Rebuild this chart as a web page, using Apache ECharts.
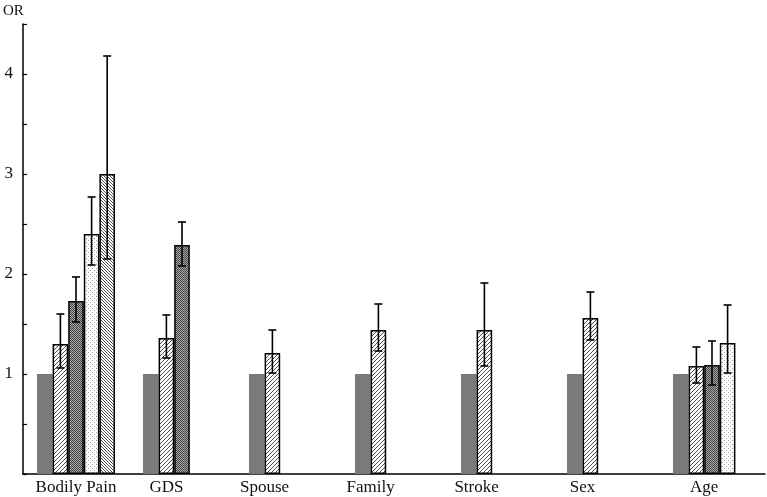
<!DOCTYPE html>
<html><head><meta charset="utf-8">
<script src="https://cdn.jsdelivr.net/npm/echarts@6/dist/echarts.min.js"></script>
<style>html,body{margin:0;padding:0;background:#fff}#c{width:767px;height:497px}</style>
</head><body><div id="c"></div>
<script>
// ---- data ----
const categories = ['Bodily Pain', 'GDS', 'Spouse', 'Family', 'Stroke', 'Sex', 'Age'];
const refValues   = [1, 1, 1, 1, 1, 1, 1];
const hatchValues = [1.30, 1.36, 1.21, 1.44, 1.44, 1.56, 1.08];
const hatchLow    = [1.06, 1.16, 1.01, 1.23, 1.08, 1.34, 0.91];
const hatchHigh   = [1.60, 1.59, 1.44, 1.70, 1.91, 1.82, 1.27];
const darkValues  = [1.73, 2.29, null, null, null, null, 1.09];
const darkLow     = [1.52, 2.08, null, null, null, null, 0.89];
const darkHigh    = [1.97, 2.52, null, null, null, null, 1.33];
const dotValues   = [2.40, null, null, null, null, null, 1.31];
const dotLow      = [2.09, null, null, null, null, null, 1.01];
const dotHigh     = [2.77, null, null, null, null, null, 1.69];
const denseValues = [3.00, null, null, null, null, null, null];
const denseLow    = [2.15, null, null, null, null, null, null];
const denseHigh   = [4.18, null, null, null, null, null, null];
const yTickLabels = [1, 2, 3, 4];

// ---- patterns ----
function tile(size, draw) {
  const c = document.createElement('canvas');
  c.width = size; c.height = size;
  const g = c.getContext('2d');
  draw(g, size);
  return { image: c, repeat: 'repeat' };
}
function hatch(size, dir, col, lw) {
  return tile(size, (g, s) => {
    g.fillStyle = '#fff'; g.fillRect(0, 0, s, s);
    g.strokeStyle = col; g.lineWidth = lw;
    g.beginPath();
    if (dir > 0) {
      g.moveTo(-1, s + 1); g.lineTo(s + 1, -1);
      g.moveTo(-1, 1); g.lineTo(1, -1);
      g.moveTo(s - 1, s + 1); g.lineTo(s + 1, s - 1);
    } else {
      g.moveTo(-1, -1); g.lineTo(s + 1, s + 1);
      g.moveTo(s - 1, -1); g.lineTo(s + 1, 1);
      g.moveTo(-1, s - 1); g.lineTo(1, s + 1);
    }
    g.stroke();
  });
}
const patHatch = hatch(4, 1, '#3a3a3a', 0.9);
const patDense = hatch(3, -1, '#3a3a3a', 0.9);
const patDark = tile(2, (g) => {
  g.fillStyle = '#a8a8a8'; g.fillRect(0, 0, 2, 2);
  g.fillStyle = '#444'; g.fillRect(0, 0, 1, 1); g.fillRect(1, 1, 1, 1);
});
const patDot = tile(4, (g) => {
  g.fillStyle = '#fff'; g.fillRect(0, 0, 4, 4);
  g.fillStyle = '#a0a0a0'; g.fillRect(0, 0, 1, 1); g.fillRect(2, 2, 1, 1);
});

const GAP = 0.264, NSLOT = 5;
const serif = 'Liberation Serif';

const chart = echarts.init(document.getElementById('c'));
const gridLeft = 23, gridRight = 2;
const bandW = (767 - gridLeft - gridRight) / categories.length;
const barW = bandW * (1 - GAP) / NSLOT;

const slotData = [refValues, hatchValues, darkValues, dotValues, denseValues];
const counts = categories.map((_, i) => slotData.filter(a => a[i] != null).length);
const rich = {};
for (let n = 1; n <= NSLOT; n++) {
  rich['n' + n] = { fontFamily: serif, fontSize: 17, color: '#111', padding: [0, (NSLOT - n) * barW, 0, 0] };
}

function errSeries(slot, low, high) {
  const data = [];
  low.forEach((l, i) => { if (l != null) data.push([i, l, high[i]]); });
  return {
    type: 'custom', z: 10, silent: true,
    encode: { x: 0, y: [1, 2] },
    data,
    renderItem(params, api) {
      const ci = api.value(0);
      const band = api.size([1, 0])[0];
      const bw = band * (1 - GAP) / NSLOT;
      const c0 = api.coord([ci, api.value(1)]);
      const c1 = api.coord([ci, api.value(2)]);
      const x = c0[0] + (slot - (NSLOT - 1) / 2) * bw;
      const hw = 4;
      const st = { stroke: '#000', lineWidth: 1.6 };
      return { type: 'group', children: [
        { type: 'line', shape: { x1: x, y1: c0[1], x2: x, y2: c1[1] }, style: st },
        { type: 'line', shape: { x1: x - hw, y1: c0[1], x2: x + hw, y2: c0[1] }, style: st },
        { type: 'line', shape: { x1: x - hw, y1: c1[1], x2: x + hw, y2: c1[1] }, style: st }
      ]};
    }
  };
}

function barSeries(data, color, border) {
  return {
    type: 'bar', data, barGap: '0%', barCategoryGap: (GAP * 100) + '%',
    itemStyle: { color, borderColor: border ? '#000' : 'transparent', borderWidth: border ? 1.5 : 0 },
    emphasis: { disabled: true }
  };
}

chart.setOption({
  animation: false,
  backgroundColor: '#fff',
  grid: { left: gridLeft, right: gridRight, top: 24, bottom: 23, containLabel: false },
  graphic: [{ type: 'text', left: 3, top: 4, style: { text: 'OR', font: '15px "Liberation Serif"', fill: '#111' } }],
  xAxis: {
    type: 'category', data: categories,
    axisLine: { lineStyle: { color: '#000', width: 1.5 } },
    axisTick: { show: false },
    axisLabel: {
      margin: 5, interval: 0,
      formatter: (v, i) => '{n' + counts[i] + '|' + v + '}',
      rich
    }
  },
  yAxis: {
    type: 'value', min: 0, max: 4.5, interval: 0.5,
    splitLine: { show: false },
    axisLine: { show: true, lineStyle: { color: '#000', width: 1.5 } },
    axisTick: { show: true, inside: true, length: 4, lineStyle: { color: '#000', width: 1.2 } },
    axisLabel: {
      margin: 10, fontFamily: serif, fontSize: 17, color: '#111',
      formatter: v => yTickLabels.indexOf(v) >= 0 ? String(v) : ''
    }
  },
  series: [
    barSeries(refValues, '#7a7a7a', false),
    barSeries(hatchValues, patHatch, true),
    barSeries(darkValues, patDark, true),
    barSeries(dotValues, patDot, true),
    barSeries(denseValues, patDense, true),
    errSeries(1, hatchLow, hatchHigh),
    errSeries(2, darkLow, darkHigh),
    errSeries(3, dotLow, dotHigh),
    errSeries(4, denseLow, denseHigh)
  ]
});
</script></body></html>
